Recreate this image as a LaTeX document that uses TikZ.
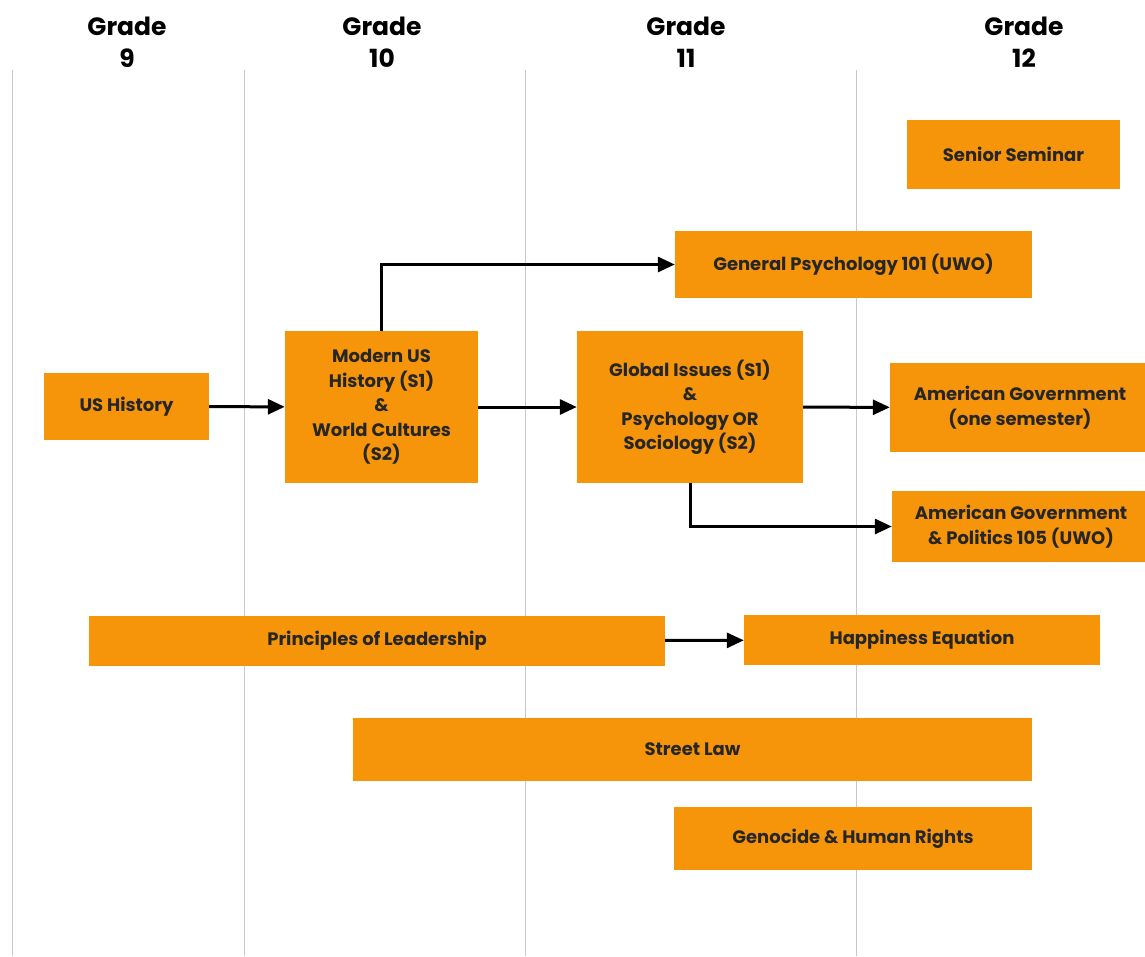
\documentclass[tikz,border=0pt]{standalone}
\usepackage{fontspec}
\setmainfont{Poppins}
\usetikzlibrary{arrows.meta}
\definecolor{courseorange}{RGB}{247,149,10}
\definecolor{gridgray}{RGB}{200,200,200}

\begin{document}
\begin{tikzpicture}[x=1pt,y=-1pt,
    coursebox/.style={fill=courseorange, text=black!85, align=center, inner sep=0pt,
      font=\bfseries\fontsize{18}{24.5}\selectfont},
    gradehead/.style={align=center, font=\bfseries\fontsize{25}{32}\selectfont},
    flow/.style={line width=3pt, -{Triangle[length=17pt,width=15pt]}},
    gridline/.style={gridgray, line width=1pt}]
    \useasboundingbox[fill=white] (0,0) rectangle (1145,956);

    % grade columns
    \foreach \gx in {12,244,525,856}
      \draw[gridline] (\gx,70) -- (\gx,956);
    \node[gradehead] (g9)  at (127,42)  {Grade\\9};
    \node[gradehead] (g10) at (382,42)  {Grade\\10};
    \node[gradehead] (g11) at (686,42)  {Grade\\11};
    \node[gradehead] (g12) at (1024,42) {Grade\\12};

    % courses
    \node[coursebox, minimum width=213, minimum height=69] (senior) at (1013.5,154.5) {Senior Seminar};
    \node[coursebox, minimum width=357, minimum height=67] (genpsych) at (853.5,264.5) {General Psychology 101 (UWO)};
    \node[coursebox, minimum width=165, minimum height=67] (ushist) at (126.5,406.5) {US History};
    \node[coursebox, minimum width=193, minimum height=152] (modern) at (381.5,407)
      {Modern US\\History (S1)\\\&\\World Cultures\\(S2)};
    \node[coursebox, minimum width=226, minimum height=152] (global) at (690,407)
      {Global Issues (S1)\\\&\\Psychology OR\\Sociology (S2)};
    \node[coursebox, minimum width=260, minimum height=89] (amgov) at (1020,407.5)
      {American Government\\(one semester)};
    \node[coursebox, minimum width=258, minimum height=71] (amgovpol) at (1021,526.5)
      {American Government\\\& Politics 105 (UWO)};
    \node[coursebox, minimum width=576, minimum height=50] (leader) at (377,641) {Principles of Leadership};
    \node[coursebox, minimum width=356, minimum height=50] (happy) at (922,640) {Happiness Equation};
    \node[coursebox, minimum width=679, minimum height=63] (street) at (692.5,749.5) {Street Law};
    \node[coursebox, minimum width=358, minimum height=63] (genocide) at (853,838.5) {Genocide \& Human Rights};

    % pathways
    \draw[flow] (ushist) -- (modern);
    \draw[flow] (modern) -- (global);
    \draw[flow] (global) -- (amgov);
    \draw[flow] (modern.north) |- (genpsych.west);
    \draw[flow] (global.south) |- (amgovpol.west);
    \draw[flow] (leader) -- (happy);
\end{tikzpicture}
\end{document}
